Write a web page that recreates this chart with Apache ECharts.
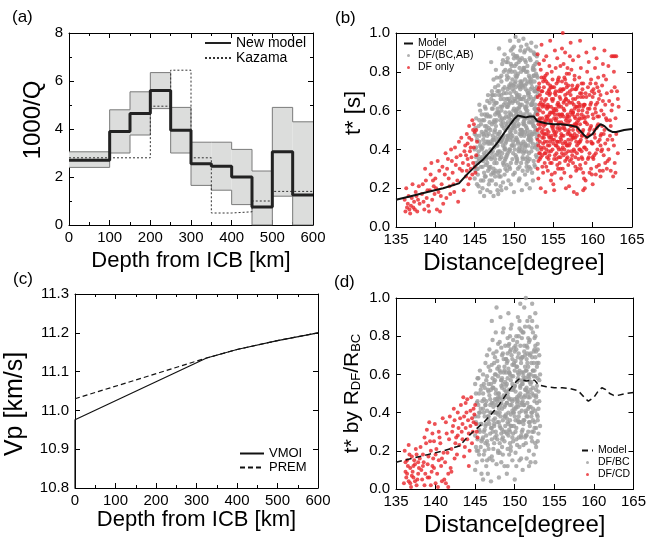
<!DOCTYPE html>
<html><head><meta charset="utf-8">
<script src="https://cdn.jsdelivr.net/npm/echarts@6/dist/echarts.min.js"></script>
<style>html,body{margin:0;padding:0;background:#fff}#c{width:649px;height:541px}</style>
</head><body><div id="c"></div>
<script>
// ---------- Panel (a): attenuation model ----------
const aBreaks = [0,100,150,200,250,300,350,400,450,500,550,600];
const aModel  = [2.7,3.9,4.65,5.6,3.95,2.55,2.45,2.0,0.75,3.05,1.25];
const aUpper  = [3.05,4.8,5.55,6.35,4.9,3.45,3.45,3.15,2.25,4.9,4.3];
const aLower  = [2.4,3.0,3.75,4.85,3.0,1.65,1.45,0.85,0,1.2,0];
const aKazama = [2.8,2.8,2.8,4.95,6.45,2.8,0.5,0.55,1.0,1.4,1.4];

// ---------- Model t* curve (panels b, d) ----------
const modelX = [135,137,139,141,143,144,145,146,147,148,149,150,150.5,151,151.5,152,152.5,153,154,155,156,157,158,159,159.3,160,160.5,161,161.5,162,162.5,163,164,165];
const modelY = [.14,.16,.18,.20,.225,.27,.31,.345,.39,.44,.50,.555,.575,.57,.565,.57,.57,.545,.535,.53,.53,.525,.515,.47,.46,.48,.51,.53,.52,.50,.49,.49,.50,.505];

// ---------- Panel (c): Vp profiles ----------
const vmoiX = [0,0,325,400,500,600];
const vmoiY = [10.8,10.976,11.135,11.157,11.18,11.2];
const premX = [0,325,400,500,600];
const premY = [11.03,11.135,11.157,11.18,11.2];

// Scatter points stored as flat pairs: (distance-135)*10, t*×100
const bGray = [
100,25,101,33,102,41,100,48,103,22,104,37,105,52,101,29,106,44,107,18,108,31,102,56,104,27,109,49,105,39,107,60,103,45,108,24,106,35,109,58,101,51,104,30,107,42,105,21,108,53,102,36,106,63,100,40,
110,20,111,34,112,47,113,58,114,26,115,39,116,65,117,29,118,51,119,43,110,55,112,16,114,61,116,33,118,22,111,45,113,37,115,52,117,68,119,30,110,41,112,28,114,49,116,19,118,57,111,24,113,62,115,35,117,44,119,54,112,38,114,32,116,47,118,36,113,26,119,64,110,31,115,57,
120,18,121,27,122,36,123,45,124,54,125,63,126,72,127,81,128,33,129,48,120,57,121,66,122,24,123,39,124,30,125,41,126,50,127,22,128,59,129,70,120,44,121,35,122,53,123,61,124,76,125,28,126,37,127,46,128,55,129,19,121,85,123,68,125,49,127,64,129,38,120,31,122,43,124,65,126,26,128,42,122,70,126,58,124,16,128,77,
130,17,131,26,132,35,133,44,134,53,135,62,136,71,137,80,138,89,139,30,130,39,131,48,132,57,133,66,134,75,135,84,136,23,137,32,138,41,139,50,130,59,131,68,132,77,133,21,134,36,135,45,136,54,137,63,138,72,139,81,131,92,133,55,135,38,137,47,139,64,130,28,132,46,134,60,136,42,138,56,130,73,132,29,134,19,136,86,138,34,139,43,131,58,
140,20,141,29,142,38,143,47,144,56,145,65,146,74,147,83,148,92,149,27,140,36,141,45,142,54,143,63,144,72,145,81,146,33,147,42,148,51,149,60,140,69,141,78,142,87,143,24,144,40,145,49,146,58,147,67,148,35,149,44,140,53,141,62,142,71,143,80,144,31,145,96,146,22,147,55,148,64,149,73,140,85,142,46,144,59,146,48,148,42,141,37,143,57,145,30,147,50,149,89,141,52,
150,18,151,28,152,37,153,46,154,55,155,64,156,73,157,82,158,91,159,33,150,42,151,51,152,60,153,69,154,78,155,87,156,96,157,25,158,39,159,48,150,57,151,66,152,75,153,84,154,35,155,44,156,53,157,62,158,71,159,80,150,93,151,40,152,49,153,58,154,67,155,30,156,39,157,48,158,57,159,66,150,70,152,98,154,45,156,61,158,50,151,74,153,36,155,56,157,72,159,43,150,52,152,65,154,88,156,24,158,63,153,77,
160,19,161,29,162,38,163,47,164,56,165,65,166,74,167,83,168,92,169,31,160,40,161,49,162,58,163,67,164,76,165,85,166,94,167,36,168,45,169,54,160,63,161,72,162,81,163,90,164,27,165,42,166,51,167,60,168,69,169,78,160,87,161,35,162,44,163,53,164,62,165,71,166,33,167,48,168,57,169,66,160,50,162,97,164,41,166,59,168,75,161,57,163,39,165,61,167,70,169,46,160,73,162,53,164,86,166,22,168,34,165,52,
170,20,171,30,172,39,173,48,174,57,175,66,176,75,177,84,178,93,179,36,170,45,171,54,172,63,173,72,174,81,175,90,176,32,177,41,178,50,179,59,180,68,170,77,171,86,172,95,173,28,174,43,175,52,176,61,177,70,178,79,179,88,180,40,170,58,171,67,172,47,173,56,174,65,175,34,176,49,177,58,178,67,179,46,180,55,170,35,172,74,174,24,176,89,178,42,171,44,173,63,175,78,177,51,179,72,180,48,176,55
];
const bGrayCore = [
141,32,144,39,147,46,150,53,153,60,156,67,159,74,162,81,165,35,168,42,171,49,174,56,177,63,180,70,143,77,146,84,149,38,152,45,155,52,158,59,161,66,164,73,167,80,170,87,173,41,176,48,179,55,142,62,145,69,148,76,151,83,154,34,157,41,160,48,163,55,166,62,169,69,172,76,175,83,178,37,140,44,143,51,146,58,149,65,152,72,155,79,158,86,161,36,164,43,167,50,170,57,173,64,176,71,179,78,142,85,145,40,148,47,151,54,154,61,157,68,160,75,163,82,166,31,169,38,172,45,175,52,178,59,141,66,144,73,147,80,150,87,153,33,156,40,159,47,162,54,165,61,168,68,171,75,174,82,177,89,180,43,
102,47,105,34,108,41,111,48,114,36,117,43,120,50,123,28,126,35,129,42,132,49,135,56,138,27,103,30,106,55,109,36,112,43,115,50,118,31,121,38,124,45,127,52,130,59,133,26,136,33,139,40,116,58,119,24,122,61,125,55,128,64,131,37,134,44,137,51,110,35,113,52,131,70,134,78,137,66,126,68,
131,45,135,52,139,59,143,66,147,73,151,80,155,43,159,50,163,57,167,64,171,71,175,78,179,85,133,62,137,69,141,76,145,45,149,52,153,59,157,66,161,73,165,80,169,47,173,54,177,61,134,68,138,40,142,47,146,54,150,61,154,68,158,75,162,82,166,39,170,46,174,53,178,60,132,39,136,46,140,57,144,64,148,71,152,78,156,85,160,42,164,49,168,56,172,63,176,70,180,77,120,40,123,47,126,54,129,61,122,68,125,33,128,44,118,48,115,44,112,55,109,40,106,47,104,33,127,29,139,35,157,31,167,29,177,31,146,91,159,93,171,91,152,88,164,91,176,81
];
const bRedLeft = [
12,8,15,12,18,7,20,15,22,10,25,18,13,20,17,9,23,13,27,8,29,21,16,16,21,22,24,9,28,14,11,14,19,11,26,16,14,10,30,12,
33,17,36,9,38,24,35,13,40,19,42,8,44,27,46,14,48,21,37,30,41,11,45,33,49,17,50,25,52,9,55,29,57,16,53,34,58,22,60,12,43,19,47,24,51,20,56,8,59,31,39,15,54,18,34,22,
62,27,64,15,66,35,68,21,70,40,72,28,74,18,76,32,78,24,80,44,82,37,84,29,86,19,71,34,75,41,79,13,83,46,85,33,63,38,67,25,73,22,77,36,81,30,87,39,65,30,69,17,
88,42,89,26,90,48,91,35,92,22,93,52,94,39,95,30,96,45,97,55,98,33,99,41,100,49,101,28,102,37,103,44,91,43,94,25,96,36,98,50,100,31,89,37,93,46,97,27,99,53,102,50,95,41,90,29,92,32
];
const bRedRight = [
180,30,181,42,182,55,183,68,184,81,185,94,186,37,187,50,188,63,189,76,180,89,181,25,182,38,183,51,184,64,185,77,186,46,187,59,188,72,189,33,180,58,181,71,182,84,183,44,184,36,185,49,186,62,187,75,188,41,189,54,180,67,181,61,182,47,183,35,184,53,185,66,186,70,187,28,188,52,189,65,180,45,182,74,184,20,186,56,188,86,181,53,183,60,185,40,187,43,189,48,
190,18,191,31,192,44,193,57,194,70,195,83,196,96,197,39,198,52,199,65,190,78,191,48,192,61,193,74,194,35,195,46,196,59,197,72,198,27,199,40,190,53,191,66,192,79,193,42,194,55,195,68,196,33,197,46,198,59,199,72,190,38,191,57,192,36,193,63,194,49,195,58,196,73,197,24,198,66,199,51,191,88,193,29,195,37,197,55,199,45,190,62,192,50,194,62,196,44,198,80,
200,22,201,35,202,48,203,61,204,74,205,87,206,41,207,54,208,67,209,30,200,43,201,56,202,69,203,82,204,38,205,51,206,64,207,77,208,33,209,46,200,59,201,72,202,91,203,47,204,60,205,32,206,53,207,40,208,58,209,71,200,66,201,45,202,28,203,55,204,49,205,63,206,76,207,36,208,50,209,57,201,19,203,70,205,44,207,62,209,83,200,52,202,58,204,42,206,30,208,44,
210,25,211,38,212,51,213,64,214,77,215,90,216,43,217,56,218,69,219,32,210,45,211,58,212,71,213,84,214,40,215,53,216,66,217,79,218,36,219,49,210,62,211,75,212,100,213,47,214,60,215,34,216,55,217,42,218,58,219,65,210,54,211,47,212,30,213,57,214,51,215,68,216,20,217,35,218,48,219,73,211,92,213,37,215,44,217,63,219,54,210,70,212,41,214,28,216,74,218,82,
220,21,221,34,222,47,223,60,224,73,225,86,226,40,227,53,228,66,229,29,220,42,221,55,222,68,223,81,224,37,225,50,226,63,227,76,228,31,229,44,220,57,221,70,222,95,223,45,224,58,225,33,226,52,227,39,228,56,229,62,220,50,221,43,222,26,223,52,224,47,225,66,226,18,227,61,228,46,229,71,221,88,223,35,225,59,227,48,229,53,
230,17,231,30,232,43,233,56,234,69,235,82,236,36,237,49,238,62,239,25,230,38,231,51,232,64,233,77,234,32,235,45,236,58,237,71,238,28,239,41,230,54,231,67,232,88,233,40,234,53,235,30,236,47,237,60,238,50,239,63,230,47,231,58,232,35,233,62,234,44,236,74,238,19,230,72,232,55,234,96,236,39,238,67,
240,20,241,33,242,46,243,59,244,72,245,85,246,38,247,51,248,64,249,27,240,41,241,54,242,67,243,80,244,35,245,48,246,61,247,74,248,30,249,43,240,56,241,69,242,90,243,44,244,57,245,36,246,50,247,63,248,52,249,70,240,63,242,40,244,47,246,28,248,76,241,24,243,53,
250,22,251,35,252,48,253,61,254,74,255,87,256,40,257,53,258,66,259,29,250,43,251,56,252,69,253,82,254,38,255,51,256,64,257,77,258,32,259,45,250,58,251,71,252,92,253,46,254,59,255,31,256,52,257,44,258,57,250,67,252,37,254,27,256,72,
260,26,261,39,262,52,263,65,264,78,265,91,266,43,267,56,268,69,269,34,260,47,261,60,262,73,263,84,264,37,265,50,266,63,267,76,268,30,269,45,260,68,262,40,264,58,266,33,268,55,261,48,263,29,
270,40,272,55,274,70,276,88,278,33,280,48,283,62,271,65,273,29,275,45,277,80,279,56,281,70,282,38,270,83,272,47,274,60,276,26,278,72,280,88,271,35,273,52,275,63,277,42,279,28,282,66,274,88,278,88
];
const bRedCore = [
181,34,184,41,187,48,190,55,193,62,196,69,199,76,202,37,205,44,208,51,211,58,214,65,217,72,220,79,223,39,226,46,229,53,232,60,235,67,238,74,182,63,185,70,188,77,191,40,194,47,197,54,200,61,203,68,206,75,209,36,212,43,215,50,218,57,221,64,224,71,227,78,230,42,233,49,236,56,239,63,183,56,186,31,189,38,192,69,195,42,198,33,201,49,204,56,207,63,210,40,213,71,216,38,219,45,222,52,225,59,228,36,231,73,234,40,237,47,240,54,244,61,248,44,252,50,256,57,260,42,264,48,246,68,250,36,254,63,258,70,
180,50,183,38,186,63,189,44,192,56,195,71,198,47,201,60,204,35,207,70,210,48,213,61,216,66,219,39,222,59,225,46,228,71,231,50,234,63,237,35,182,72,185,54,188,46,191,75,194,39,197,62,200,50,203,42,206,58,209,66,212,53,215,76,218,42,221,48,224,64,227,57,230,62,233,44,236,69,239,57
];
const dGray = [
100,10,101,22,102,34,103,46,104,58,105,18,106,30,107,42,108,54,109,26,100,38,101,50,102,14,103,26,104,38,105,50,106,62,107,22,108,34,109,46,100,28,102,45,104,20,106,40,108,8,101,35,103,58,105,31,107,52,109,15,100,55,104,44,
110,5,111,18,112,31,113,44,114,57,115,70,116,23,117,36,118,49,119,62,110,27,111,40,112,53,113,66,114,12,115,25,116,38,117,51,118,16,119,29,110,42,111,55,112,20,113,33,114,46,115,59,116,8,117,21,118,34,119,47,110,60,112,38,114,28,116,52,118,73,111,30,113,24,115,41,117,64,119,40,
120,4,121,17,122,30,123,43,124,56,125,69,126,82,127,95,128,26,129,39,120,52,121,65,122,78,123,21,124,34,125,47,126,60,127,13,128,46,129,59,120,32,121,45,122,58,123,71,124,24,125,37,126,50,127,28,128,63,129,76,120,40,121,88,122,15,123,53,124,66,125,27,126,40,127,44,128,35,129,20,121,32,123,36,125,57,127,72,129,48,
130,6,131,19,132,32,133,45,134,58,135,71,136,84,137,25,138,38,139,51,130,64,131,77,132,90,133,29,134,42,135,55,136,68,137,12,138,48,139,61,130,35,131,48,132,61,133,74,134,22,135,36,136,49,137,62,138,75,139,30,130,50,131,33,132,44,133,57,134,70,135,18,136,30,137,43,138,56,139,39,131,62,133,14,135,82,137,52,139,68,130,42,134,53,
140,8,141,21,142,34,143,47,144,60,145,73,146,86,147,27,148,40,149,53,140,66,141,79,142,92,143,31,144,44,145,57,146,70,147,15,148,52,149,65,140,37,141,50,142,63,143,76,144,24,145,39,146,52,147,65,148,78,149,33,140,55,141,35,142,48,143,61,144,72,145,20,146,33,147,46,148,59,149,42,141,67,143,18,145,84,147,55,149,74,140,45,142,28,144,36,146,44,148,25,
150,5,151,19,152,32,153,45,154,58,155,71,156,84,157,97,158,28,159,41,150,54,151,67,152,80,153,23,154,36,155,49,156,62,157,75,158,16,159,55,150,38,151,51,152,64,153,77,154,90,155,27,156,40,157,53,158,66,159,79,150,47,151,30,152,43,153,56,154,69,155,35,156,22,157,35,158,48,159,61,150,72,152,12,154,46,156,57,158,83,151,42,153,64,155,60,157,44,159,30,
160,10,161,23,162,36,163,49,164,62,165,75,166,88,167,30,168,43,169,56,160,69,161,82,162,95,163,27,164,40,165,53,166,66,167,79,168,20,169,33,160,46,161,59,162,72,163,85,164,100,165,38,166,51,167,64,168,77,169,48,160,31,161,44,162,57,163,70,164,28,165,62,166,38,167,50,168,60,169,70,161,36,163,58,165,16,167,42,169,90,160,55,162,48,164,52,166,74,168,35,
170,14,171,27,172,40,173,53,174,66,175,79,176,92,177,32,178,45,179,58,170,71,171,84,172,97,173,36,174,49,175,62,176,75,177,22,178,64,179,38,180,51,181,70,170,43,171,56,172,69,173,82,174,30,175,46,176,59,177,72,178,85,179,25,180,42,181,57,182,33,170,60,172,50,174,18,176,41,178,54,180,66,171,38,173,62,175,35,177,48,179,73,182,60,176,24,172,88
];
const dGrayCore = [
121,26,124,33,127,40,130,47,133,54,136,61,139,68,142,75,145,22,148,29,151,36,154,43,157,50,160,57,163,64,166,71,169,78,172,25,175,32,178,39,181,46,122,53,125,60,128,67,131,24,134,31,137,38,140,45,143,52,146,59,149,66,152,73,155,80,158,27,161,34,164,41,167,48,170,55,173,62,176,69,179,76,123,45,126,52,129,19,132,38,135,27,138,44,141,58,144,30,147,41,150,62,153,48,156,35,159,69,162,44,165,28,168,58,171,40,174,72,177,52,180,29,105,40,108,25,111,47,114,34,117,55,102,20,115,15,119,44,141,12,156,15,168,12,176,14,
131,40,135,47,139,54,143,61,147,68,151,75,155,38,159,45,163,52,167,59,171,66,175,73,179,36,133,57,137,64,141,71,145,33,149,40,153,47,157,54,161,61,165,68,169,35,173,42,177,49,134,26,138,33,142,40,146,47,150,54,154,61,158,68,162,75,166,45,170,52,174,59,178,66,124,40,127,47,120,55,126,30,129,50,117,38,113,44,110,50,107,34,140,29,152,26,164,24,172,30,160,82,168,85,156,88,176,80,144,80
];
const dRed = [
10,3,12,9,14,15,16,4,18,11,20,17,22,6,24,13,26,2,28,8,11,20,13,6,15,12,17,18,19,1,21,9,23,15,25,21,27,5,29,11,30,16,14,8,18,3,22,12,26,18,12,14,16,23,20,7,24,4,28,14,
32,10,34,18,36,2,38,24,40,13,42,6,44,20,46,29,48,11,50,3,31,22,33,5,35,14,37,8,39,31,41,17,43,25,45,9,47,16,49,34,51,21,53,1,55,27,57,12,59,37,52,8,54,15,56,24,58,4,60,19,36,27,42,35,46,12,50,18,54,30,58,16,34,12,40,6,44,2,48,25,
62,14,64,29,66,8,68,38,70,21,72,33,74,16,76,27,78,40,80,23,63,35,65,19,67,26,69,11,71,30,73,42,75,24,77,18,79,32,81,37,61,5,63,3,66,1,70,9,74,36,78,28,
82,44,84,26,86,38,88,32,90,47,92,29,94,41,96,24,98,35,100,44,83,30,85,48,87,22,89,40,91,36,93,20,95,48,97,30,99,39,101,34,103,27,86,17,90,26,94,33,98,42,102,30,84,34,88,45,92,12,96,37
];

// ---------- helpers ----------
const FONT = 'Liberation Sans';
const GRAY = '#9c9c9c', RED = '#e8262a';
function pairs(flat){ const o=[]; for(let i=0;i<flat.length;i+=2) o.push([135+flat[i]/10, flat[i+1]/100]); return o; }
function zip(xs, ys){ return xs.map((x,i)=>[x, ys[i]]); }
function stepData(vals){ const d = vals.map((v,i)=>[aBreaks[i], v]); d.push([aBreaks[aBreaks.length-1], vals[vals.length-1]]); return d; }

const tick = {show:true, inside:true, length:5, lineStyle:{color:'#000', width:1}};
const line = {show:true, onZero:false, lineStyle:{color:'#000', width:1}};
function xPair(gi, min, max, interval, minor, name, nameGap, fs){
  const base = {gridIndex:gi, type:'value', min, max, interval, splitLine:{show:false}, axisLine:line, axisTick:tick,
    minorTick:{show:!!minor, splitNumber:minor||1, length:3, lineStyle:{color:'#000'}}};
  return [
    Object.assign({}, base, {position:'bottom', name, nameLocation:'middle', nameGap,
      nameTextStyle:{fontFamily:FONT, fontSize:fs, color:'#000'},
      axisLabel:{fontFamily:FONT, fontSize:15, color:'#000', margin:5}}),
    Object.assign({}, base, {position:'top', axisLabel:{show:false}})
  ];
}
function yPair(gi, min, max, interval, minor, name, nameGap, dec, nameStyle){
  const base = {gridIndex:gi, type:'value', min, max, interval, splitLine:{show:false}, axisLine:line, axisTick:tick,
    minorTick:{show:!!minor, splitNumber:minor||1, length:3, lineStyle:{color:'#000'}}};
  return [
    Object.assign({}, base, {position:'left', name, nameLocation:'middle', nameGap,
      nameTextStyle:Object.assign({fontFamily:FONT, fontSize:22, color:'#000'}, nameStyle||{}),
      axisLabel:{fontFamily:FONT, fontSize:15, color:'#000', margin:6, formatter:v=>dec?v.toFixed(dec):String(v)}}),
    Object.assign({}, base, {position:'right', axisLabel:{show:false}})
  ];
}

const xAxis = [].concat(
  xPair(0, 0, 600, 100, 2, 'Depth from ICB [km]', 25, 22),
  xPair(1, 135, 165, 5, 0, 'Distance[degree]', 24, 24),
  xPair(2, 0, 600, 100, 2, 'Depth from ICB [km]', 17, 22),
  xPair(3, 135, 165, 5, 0, 'Distance[degree]', 24, 24)
);
const yAxis = [].concat(
  yPair(0, 0, 8, 2, 2, '1000/Q', 24, 0, {fontSize:24, padding:[0,0,0,18]}),
  yPair(1, 0, 1, 0.2, 0, 't* [s]', 28, 1, {fontSize:22, padding:[0,0,0,34]}),
  yPair(2, 10.8, 11.3, 0.1, 0, 'Vp [km/s]', 47, 1, {fontSize:25, padding:[0,26,0,0]}),
  yPair(3, 0, 1, 0.2, 0, 't* by R{s|DF}/R{s|BC}', 33, 1, {fontSize:21, rich:{s:{fontFamily:FONT, fontSize:13, color:'#000', padding:[8,0,0,0]}}})
);

const series = [
  // (a)
  {type:'custom', xAxisIndex:0, yAxisIndex:0, silent:true, z:1,
   data: aLower.map((lo,i)=>[aBreaks[i], aBreaks[i+1], lo, aUpper[i]]),
   encode:{x:[0,1], y:[2,3]},
   renderItem:(p, api)=>{ const a=api.coord([api.value(0), api.value(3)]); const b=api.coord([api.value(1), api.value(2)]);
     return {type:'rect', shape:{x:a[0], y:a[1], width:b[0]-a[0], height:b[1]-a[1]}, style:{fill:'#dcdddc'}}; }},
  {name:'upper', type:'line', xAxisIndex:0, yAxisIndex:0, step:'end', symbol:'none', data:stepData(aUpper), lineStyle:{color:'#7a7a7a', width:1}, z:2, silent:true},
  {name:'lower', type:'line', xAxisIndex:0, yAxisIndex:0, step:'end', symbol:'none', data:stepData(aLower), lineStyle:{color:'#7a7a7a', width:1}, z:2, silent:true},
  {name:'Kazama', type:'line', xAxisIndex:0, yAxisIndex:0, step:'end', symbol:'none', data:stepData(aKazama), itemStyle:{color:'#333'}, lineStyle:{color:'#333', width:1, type:[2,2]}, z:3},
  {name:'New model', type:'line', xAxisIndex:0, yAxisIndex:0, step:'end', symbol:'none', data:stepData(aModel), itemStyle:{color:'#222'}, lineStyle:{color:'#222', width:3}, z:4},
  // (b)
  {name:'DF/(BC,AB)', type:'scatter', xAxisIndex:2, yAxisIndex:2, symbol:'circle', symbolSize:4.4, data:pairs(bGray).concat(pairs(bGrayCore)), itemStyle:{color:GRAY}, z:2},
  {name:'DF only', type:'scatter', xAxisIndex:2, yAxisIndex:2, symbol:'circle', symbolSize:4, data:pairs(bRedLeft).concat(pairs(bRedRight), pairs(bRedCore)), itemStyle:{color:RED}, z:2},
  {name:'Model', type:'line', xAxisIndex:2, yAxisIndex:2, symbol:'none', data:zip(modelX, modelY), itemStyle:{color:'#111'}, lineStyle:{color:'#111', width:2}, z:5},
  // (c)
  {name:'VMOI', type:'line', xAxisIndex:4, yAxisIndex:4, symbol:'none', data:zip(vmoiX, vmoiY), itemStyle:{color:'#111'}, lineStyle:{color:'#111', width:1.2}, z:4},
  {name:'PREM', type:'line', xAxisIndex:4, yAxisIndex:4, symbol:'none', data:zip(premX, premY), itemStyle:{color:'#111'}, lineStyle:{color:'#111', width:1.2, type:[5,3]}, z:4},
  // (d)
  {name:'DF/BC', type:'scatter', xAxisIndex:6, yAxisIndex:6, symbol:'circle', symbolSize:4.4, data:pairs(dGray).concat(pairs(dGrayCore)), itemStyle:{color:GRAY}, z:2},
  {name:'DF/CD', type:'scatter', xAxisIndex:6, yAxisIndex:6, symbol:'circle', symbolSize:4, data:pairs(dRed), itemStyle:{color:RED}, z:2},
  {name:'Model ', type:'line', xAxisIndex:6, yAxisIndex:6, symbol:'none', data:zip(modelX, modelY), itemStyle:{color:'#111'}, lineStyle:{color:'#111', width:1.5, type:[6,4]}, z:5}
];

const legTxt = s => ({fontFamily:FONT, fontSize:s, color:'#000'});
const hideSym = n => ({name:n, itemStyle:{opacity:0}});
const legend = [
  {data:[hideSym('New model'), hideSym('Kazama')], orient:'vertical', left:204, top:36, padding:0, itemGap:1, itemWidth:26, itemHeight:14, textStyle:legTxt(14), selectedMode:false},
  {data:[hideSym('Model'),'DF/(BC,AB)','DF only'], orient:'vertical', left:403, top:38, padding:0, itemGap:1, itemWidth:9, itemHeight:3, textStyle:legTxt(10.5), selectedMode:false},
  {data:[hideSym('VMOI'), hideSym('PREM')], orient:'vertical', left:239, top:447, padding:0, itemGap:1, itemWidth:24, itemHeight:14, textStyle:legTxt(13), selectedMode:false},
  {data:[hideSym('Model '),'DF/BC','DF/CD'], orient:'vertical', left:581, top:445, padding:0, itemGap:1, itemWidth:11, itemHeight:3, textStyle:legTxt(10.5), selectedMode:false}
];

const lab = (t, x, y) => ({type:'text', left:x, top:y, style:{text:t, fontFamily:FONT, fontSize:17, fill:'#000'}});

const option = {
  animation:false,
  backgroundColor:'#fff',
  grid:[
    {left:69, top:33, width:244, height:192},
    {left:396, top:33, width:236, height:194},
    {left:75, top:294, width:243, height:194},
    {left:396, top:298, width:238, height:191}
  ],
  xAxis, yAxis, series, legend,
  graphic:[lab('(a)', 12, 9), lab('(b)', 335, 10), lab('(c)', 13, 271), lab('(d)', 334, 274)]
};
const chart = echarts.init(document.getElementById('c'), null, {renderer:'canvas'});
chart.setOption(option);
</script>
</body></html>
